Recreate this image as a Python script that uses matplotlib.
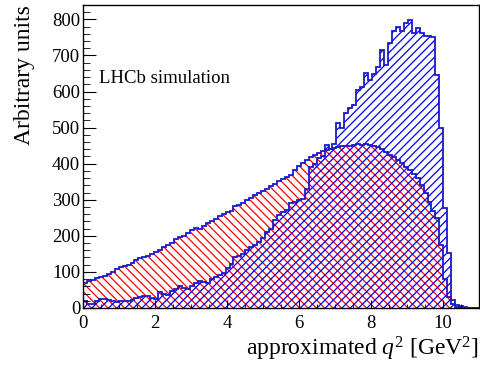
import numpy as np
import matplotlib
matplotlib.use('Agg')
import matplotlib.pyplot as plt
from matplotlib.ticker import MultipleLocator

plt.rcParams['font.family'] = ['Liberation Serif', 'DejaVu Serif']
plt.rcParams['mathtext.fontset'] = 'custom'
plt.rcParams['mathtext.rm'] = 'Liberation Serif'
plt.rcParams['mathtext.it'] = 'Liberation Serif:italic'
plt.rcParams['hatch.linewidth'] = 0.9

# binning: 100 bins between 0 and 11
edges = np.linspace(0, 11, 101)

# red-hatched histogram (broad)
red_vals = [68, 74, 78, 82, 86, 90, 95, 101, 108, 115,
            117, 119, 125, 132, 138, 142, 145, 150, 155, 162,
            168, 174, 180, 190, 196, 200, 208, 217, 222, 220,
            228, 235, 242, 248, 255, 260, 266, 270, 282, 285,
            292, 298, 305, 312, 318, 325, 330, 338, 345, 352,
            358, 363, 370, 382, 394, 402, 410, 418, 424, 430,
            434, 437, 442, 444, 446, 448, 450, 449, 452, 454,
            452, 455, 453, 450, 446, 440, 432, 424, 418, 410,
            402, 392, 382, 372, 360, 340, 318, 295, 268, 250,
            175, 80, 30, 12, 4, 1, 0, 0, 0, 0]

# blue-hatched histogram (peaked at high q2)
blue_vals = [20, 12, 10, 18, 24, 25, 22, 19, 17, 18,
             20, 18, 22, 28, 31, 32, 34, 28, 25, 45,
             40, 36, 48, 52, 60, 55, 54, 62, 68, 76,
             72, 70, 80, 85, 92, 98, 110, 122, 140, 145,
             150, 160, 168, 175, 182, 195, 210, 220, 245, 258,
             265, 272, 290, 295, 300, 302, 330, 392, 400, 415,
             422, 452, 440, 455, 513, 499, 540, 554, 563, 605,
             612, 651, 632, 650, 668, 716, 674, 734, 767, 780,
             767, 791, 799, 762, 776, 762, 754, 755, 752, 645,
             500, 277, 152, 22, 8, 5, 3, 1, 0, 0]

fig = plt.figure(figsize=(4.81, 3.65), dpi=100)
ax = fig.add_axes([0.1726, 0.1562, 0.8232, 0.8301])

ax.stairs(red_vals, edges, fill=True, facecolor='none', edgecolor='red',
          hatch='\\\\\\\\', linewidth=0)
ax.stairs(blue_vals, edges, fill=True, facecolor='none', edgecolor='blue',
          hatch='////', linewidth=0)
ax.stairs(red_vals, edges, color='#1a1ac8', linewidth=1.3)
ax.stairs(blue_vals, edges, color='#1a1ac8', linewidth=1.3)

ax.set_xlim(0, 11)
ax.set_ylim(0, 840)

ax.xaxis.set_major_locator(MultipleLocator(2))
ax.xaxis.set_minor_locator(MultipleLocator(0.5))
ax.yaxis.set_major_locator(MultipleLocator(100))
ax.yaxis.set_minor_locator(MultipleLocator(20))
ax.tick_params(axis='both', which='both', direction='in', labelsize=13.5)
ax.tick_params(axis='x', which='major', length=6, pad=5)
ax.tick_params(axis='x', which='minor', length=3)
ax.tick_params(axis='y', which='major', length=9, pad=2)
ax.tick_params(axis='y', which='minor', length=5)

for s in ax.spines.values():
    s.set_linewidth(1.0)

ax.set_xlabel(r'approximated $q^{2}$ [GeV$^{2}$]', fontsize=17, loc='right', labelpad=2)
ax.set_ylabel('Arbitrary units', fontsize=17, loc='top', labelpad=12)

ax.text(0.04, 0.743, 'LHCb simulation', transform=ax.transAxes, fontsize=13.5,
        va='baseline')

fig.savefig('out.png', dpi=100)
